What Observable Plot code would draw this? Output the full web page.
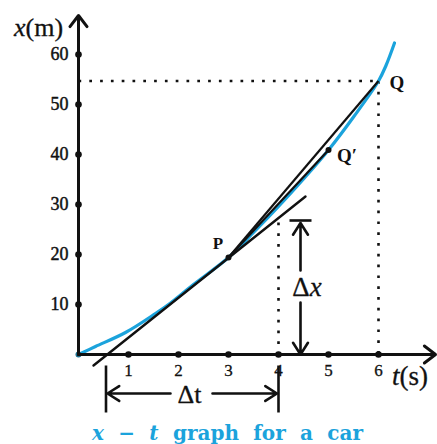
<!DOCTYPE html>
<html>
<head>
<meta charset="utf-8">
<script src="https://cdn.jsdelivr.net/npm/d3@7"></script>
<script src="https://cdn.jsdelivr.net/npm/@observablehq/plot@0.6"></script>
<style>
  html, body { margin: 0; padding: 0; background: #fff; }
</style>
</head>
<body>
<div id="chart"></div>
<script>
// Axis ticks
const timeTicks = [1, 2, 3, 4, 5, 6];          // t (s)
const posTicks = [10, 20, 30, 40, 50, 60];     // x (m)

// Position of the car against time (cyan curve)
const curveT = [0, 0.34, 0.94, 1.54, 1.8, 2.3, 3.0, 3.5, 4.0, 4.5, 5.0, 5.5, 6.0, 6.15, 6.32];
const curveX = [0, 1.6, 4.4, 8.2, 10.0, 14.0, 19.4, 24.4, 29.6, 35.1, 40.9, 47.5, 54.7, 57.8, 62.3];

// Named points on the curve
const pointNames = ["P", "Q′", "Q"];
const pointT = [3, 5, 6];
const pointX = [19.4, 40.9, 54.7];

// Tangent at P
const tangentT = [0.3, 4.54];
const tangentX = [-2.2, 31.6];

const deltaT = [0.55, 4];
const deltaX = [0, 26.8];

const CYAN = "#1ba3dc";
const SERIF = "'Liberation Serif', 'Times New Roman', serif";
const INK = "#111";

const curve = curveT.map((t, i) => ({t, x: curveX[i]}));
const points = pointNames.map((name, i) => ({name, t: pointT[i], x: pointX[i]}));
const P = points[0], Qp = points[1], Q = points[2];
const tangent = tangentT.map((t, i) => ({t, x: tangentX[i]}));

const tMax = 7.14, xMax = 67.8;
const dxAt = 4.44;          // horizontal position of the Δx arrow
const dtAt = -7.8;          // vertical position of the Δt arrow

const dotted = {stroke: INK, strokeWidth: 2.6, strokeDasharray: "2.7,8.1"};
const heavy = {fill: INK, stroke: INK, strokeWidth: 0.45};   // slightly heavier serif glyphs

const chart = Plot.plot({
  width: 437,
  height: 444,
  marginLeft: 78,
  marginRight: 2,
  marginTop: 15,
  marginBottom: 90,
  x: {domain: [0, tMax], axis: null},
  y: {domain: [0, xMax], axis: null},
  style: {background: "#fff", fontFamily: SERIF, overflow: "visible"},
  marks: [
    // dotted guides to Q and to t = 4
    Plot.link([Q], {x1: 0, y1: "x", x2: "t", y2: "x", ...dotted}),
    Plot.link([Q], {x1: "t", y1: "x", x2: "t", y2: 0, ...dotted}),
    Plot.link([deltaX[1]], {x1: deltaT[1], y1: d => d - 0.4, x2: deltaT[1], y2: 0, ...dotted}),

    // x–t curve
    Plot.line(curve, {x: "t", y: "x", curve: "catmull-rom", stroke: CYAN, strokeWidth: 3.2, strokeLinecap: "round"}),

    // tangent at P and chords PQ, PQ′
    Plot.line(tangent, {x: "t", y: "x", stroke: INK, strokeWidth: 2.4}),
    Plot.link([Q, Qp], {x1: P.t, y1: P.x, x2: "t", y2: "x", stroke: INK, strokeWidth: 2.2}),
    Plot.dot([P, Qp], {x: "t", y: "x", r: 3, fill: INK}),
    Plot.dot([{t: 0, x: 0}], {x: "t", y: "x", r: 3, fill: "#1d6f8f"}),

    // axes with arrowheads
    Plot.arrow([0], {x1: 0, y1: 0, x2: tMax, y2: 0, stroke: INK, strokeWidth: 3, headLength: 7, headAngle: 75}),
    Plot.arrow([0], {x1: 0, y1: 0, x2: 0, y2: xMax, stroke: INK, strokeWidth: 3, headLength: 7, headAngle: 75}),
    Plot.dot(timeTicks, {x: d => d, y: 0, r: 3.3, fill: INK}),
    Plot.dot(posTicks, {x: 0, y: d => d, r: 3.3, fill: INK}),
    Plot.text(timeTicks, {x: d => d, y: -3.3, text: d => String(d), fontSize: 17, ...heavy, strokeWidth: 0.3}),
    Plot.text(posTicks, {x: -0.2, y: d => d, text: d => String(d), textAnchor: "end", fontSize: 18, ...heavy}),
    Plot.text(["x(m)"], {x: -0.8, y: 65.4, text: d => d, fontSize: 26, ...heavy, strokeWidth: 0.3}),
    Plot.text(["t(s)"], {x: 6.63, y: -4.4, text: d => d, fontSize: 27, ...heavy, strokeWidth: 0.3}),

    // point names
    Plot.text([P], {x: 2.79, y: 22.2, text: "name", fontSize: 17, fontWeight: "bold", fill: INK}),
    Plot.text([Q], {x: 6.22, y: 54.4, text: "name", fontSize: 19, textAnchor: "start", fontWeight: "bold", fill: INK}),
    Plot.text([Qp], {x: 5.17, y: 39.8, text: "name", fontSize: 19, textAnchor: "start", fontWeight: "bold", fill: INK}),

    // Δx arrow
    Plot.link([deltaX[1]], {x1: dxAt - 0.22, x2: dxAt + 0.22, y1: d => d, y2: d => d, stroke: INK, strokeWidth: 2.6}),
    Plot.arrow([deltaX[1]], {x1: dxAt, x2: dxAt, y1: 16.8, y2: d => d - 0.5, stroke: INK, strokeWidth: 2.6, headLength: 8, headAngle: 65}),
    Plot.arrow([deltaX[0]], {x1: dxAt, x2: dxAt, y1: 10.4, y2: d => d, stroke: INK, strokeWidth: 2.6, headLength: 8, headAngle: 65}),
    Plot.text(["Δx"], {x: 4.57, y: 13.4, text: d => d, fontSize: 27, ...heavy, strokeWidth: 0.3}),

    // Δt arrow
    Plot.link(deltaT, {x1: d => d, x2: d => d, y1: -2.2, y2: -11.6, stroke: INK, strokeWidth: 2.6}),
    Plot.arrow([deltaT[0]], {x1: 1.84, x2: d => d + 0.03, y1: dtAt, y2: dtAt, stroke: INK, strokeWidth: 2.6, headLength: 8, headAngle: 65}),
    Plot.arrow([deltaT[1]], {x1: 2.68, x2: d => d - 0.03, y1: dtAt, y2: dtAt, stroke: INK, strokeWidth: 2.6, headLength: 8, headAngle: 65}),
    Plot.text(["Δt"], {x: 2.22, y: dtAt - 0.3, text: d => d, fontSize: 26, ...heavy, strokeWidth: 0.3}),

    // caption
    Plot.text(["x − t graph for a car"], {x: 2.98, y: -15.9, text: d => d, fontSize: 20, fontWeight: "bold",
      fontFamily: "'DejaVu Serif', serif", fill: CYAN})
  ]
});

// split a label into upright / italic runs
function richText(svg, content, parts) {
  return d3.select(svg).selectAll("text")
    .filter(function () { return this.textContent === content; })
    .each(function () {
      const t = d3.select(this).text(null);
      for (const [s, italic] of parts) {
        const span = t.append("tspan").text(s);
        if (italic) span.attr("font-style", "italic");
      }
    });
}
richText(chart, "x(m)", [["x", true], ["(m)", false]]);
richText(chart, "t(s)", [["t", true], ["(s)", false]]);
richText(chart, "Δx", [["Δ", false], ["x", true]]);
const caption = richText(chart, "x − t graph for a car",
  [["x", true], [" − ", false], ["t", true], [" graph for a car", false]]);

document.getElementById("chart").appendChild(chart);

// widen the word gaps of the caption so that it spans the axis width
caption.each(function () {
  const target = 271, gaps = 6;
  const extra = (target - this.getComputedTextLength()) / gaps;
  if (extra > 0) d3.select(this).attr("word-spacing", `${extra}px`);
});
</script>
</body>
</html>
